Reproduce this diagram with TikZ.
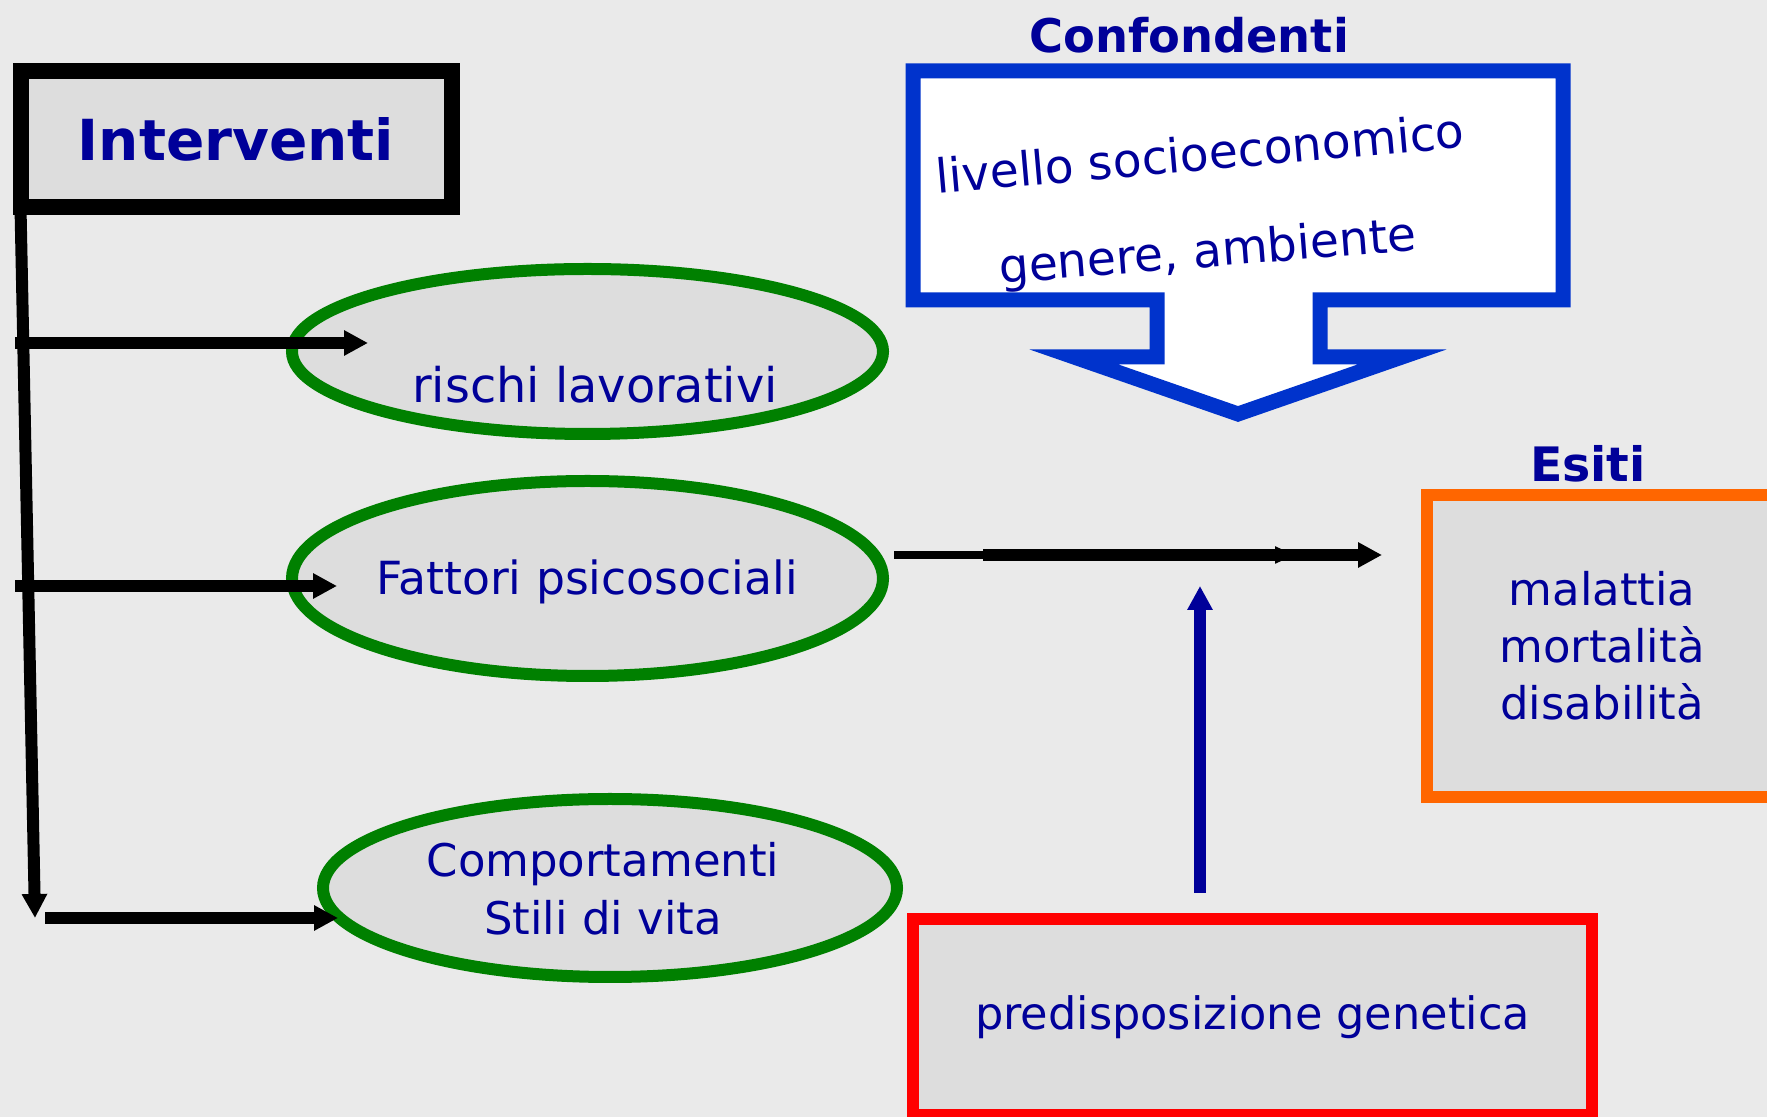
\documentclass[tikz,border=0pt]{standalone}
\usepackage{fontspec}
\setmainfont{DejaVu Sans}
\usetikzlibrary{arrows.meta,shapes.geometric}
\definecolor{bgcol}{HTML}{EAEAEA}
\definecolor{boxfill}{HTML}{DDDDDD}
\definecolor{txtblue}{HTML}{000099}
\definecolor{confblue}{HTML}{0033CC}
\definecolor{ovalgreen}{HTML}{008000}
\definecolor{esitiorange}{HTML}{FF6600}
\definecolor{genred}{HTML}{FF0000}
\tikzset{
  >={Triangle[length=2.4mm,width=2.4mm]},
  lbl/.style = {text=txtblue, font=\fontsize{12.8}{16.2}\selectfont, inner sep=0pt, align=center},
  ttl/.style = {text=txtblue, font=\bfseries\fontsize{13.2}{16}\selectfont, inner sep=0pt},
  oval/.style = {ellipse, draw=ovalgreen, line width=1.2mm, fill=boxfill, inner sep=0pt},
  frame/.style = {rectangle, line width=1.2mm, fill=boxfill, inner sep=0pt},
  link/.style = {line width=1.2mm, ->},
}

\begin{document}
\begin{tikzpicture}[x=0.1mm, y=-0.1mm]
  \useasboundingbox (0,0) rectangle (1767,1117);
  \clip (0,0) rectangle (1767,1117);
  \fill[bgcol] (0,0) rectangle (1767,1117);

  % interventi
  \node[frame, draw=black, line width=1.6mm, outer sep=0pt, minimum width=43.1mm, minimum height=13.6mm,
        text=txtblue, font=\bfseries\fontsize{16.1}{20}\selectfont] (interventi) at (236,139) {Interventi};

  % fattori di rischio
  \node[oval, minimum width=59.1mm, minimum height=16.5mm] (rischi) at (587.5,351.5) {};
  \node[oval, minimum width=59.1mm, minimum height=19.5mm] (fattori) at (587.5,578.5) {};
  \node[oval, minimum width=57.4mm, minimum height=17.8mm] (stili) at (610,888) {};
  \node[lbl, anchor=base, font=\fontsize{13.6}{16.2}\selectfont] (rischitxt) at (595,403) {rischi lavorativi};
  \node[lbl, anchor=base, font=\fontsize{13}{16.2}\selectfont] (fattoritxt) at (587,595) {Fattori psicosociali};
  \node[lbl, font=\fontsize{12.8}{16.5}\selectfont] (stilitxt) at (603,889) {Comportamenti\\Stili di vita};

  % confondenti
  \node[ttl, anchor=base] (conftitle) at (1189,53) {Confondenti};
  \draw[confblue, line width=1.5mm, fill=white, miter limit=10]
    (913,71) -- (1563,71) -- (1563,300) -- (1320,300) -- (1320,357) -- (1402,357)
    -- (1238,414) -- (1074,357) -- (1157,357) -- (1157,300) -- (913,300) -- cycle;
  \node[lbl, font=\fontsize{13.4}{16}\selectfont, rotate=5] (livello) at (1200,153) {livello socioeconomico};
  \node[lbl, font=\fontsize{13.4}{16}\selectfont, rotate=4.5] (genere) at (1208,254) {genere, ambiente};

  % esiti
  \node[ttl, anchor=base, font=\bfseries\fontsize{13.5}{16}\selectfont] (esititle) at (1588,482) {Esiti};
  \node[frame, draw=esitiorange, minimum width=35mm, minimum height=30.2mm, lbl,
        font=\fontsize{12.8}{16.2}\selectfont] (esiti) at (1602,646) {malattia\\mortalità\\disabilità};

  % genetica
  \node[frame, draw=genred, minimum width=67.9mm, minimum height=19.6mm, lbl,
        font=\fontsize{12.7}{16.2}\selectfont] (genetica) at (1252.5,1017) {predisposizione genetica};

  % connectors
  \coordinate (vbot) at (35,918);
  \coordinate (r0) at (15,343);  \coordinate (r1) at (368,343);
  \coordinate (p0) at (15,586);  \coordinate (p1) at (337,586);
  \coordinate (s0) at (45,918);  \coordinate (s1) at (338,918);
  \coordinate (f0) at (894,555); \coordinate (f1) at (983,555);
  \coordinate (f2) at (1295,555); \coordinate (f3) at (1382,555);
  \coordinate (g0) at (1200,893); \coordinate (g1) at (1200,586);

  \draw[link] (interventi.south west) -- (vbot);
  \draw[link] (r0) -- (r1);            % rischi lavorativi
  \draw[link] (p0) -- (p1);            % fattori psicosociali
  \draw[link] (s0) -- (s1);            % stili di vita
  \draw[line width=0.85mm, -{Triangle[length=2mm,width=1.6mm]}] (f0) -- (f2);
  \draw[link] (f1) -- (f3);            % verso esiti
  \draw[link, txtblue] (g0) -- (g1);   % genetica
\end{tikzpicture}
\end{document}
